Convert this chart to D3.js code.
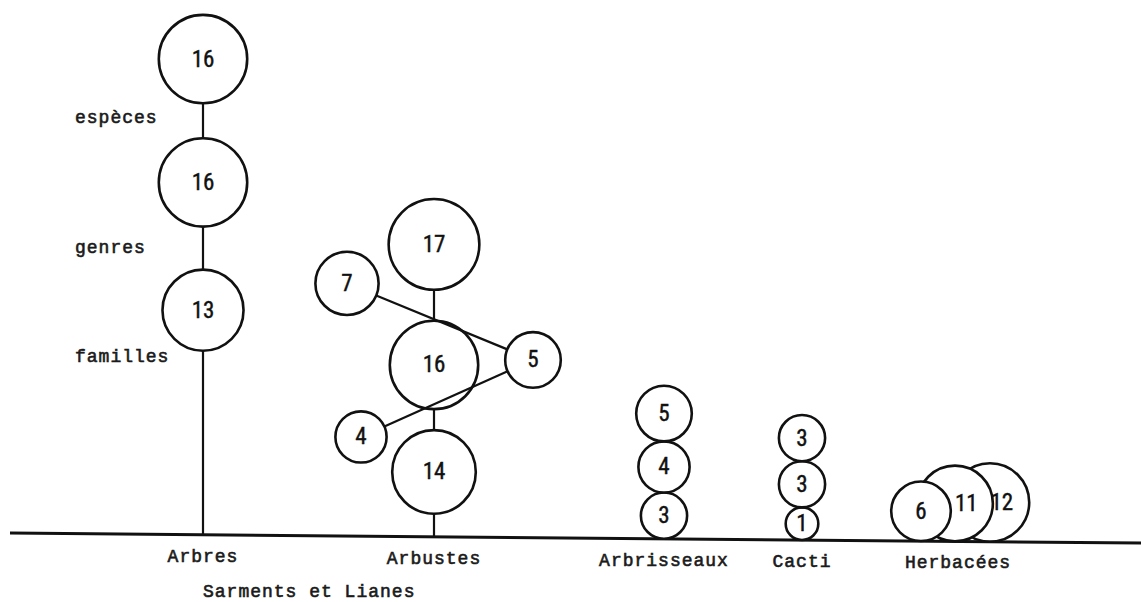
<!DOCTYPE html>
<html>
  <head>
    <meta charset="utf-8">
    <style>
    body {
      margin: 0;
      background: #fff;
    }
    .typed {
      font-family: "Liberation Mono", "DejaVu Sans Mono", monospace;
      font-size: 18px;
      letter-spacing: 1px;
      fill: #1a1a1a;
      stroke: #1a1a1a;
      stroke-width: 0.6px;
    }
    .num {
      font-family: "Liberation Sans Narrow", "Roboto Condensed", "DejaVu Sans Condensed", sans-serif;
      font-size: 23px;
      fill: #111;
      stroke: #111;
      stroke-width: 0.4px;
    }
    </style>
    <script src="https://cdn.jsdelivr.net/npm/d3@7"></script>
  </head>
  <body>
    <script>
    // values
    var categories = ["Arbres", "Arbustes", "Arbrisseaux", "Cacti", "Herbacées"];
    var familles = [13, 14, 3, 1, 6];
    var genres   = [16, 16, 4, 3, 11];
    var especes  = [16, 17, 5, 3, 12];
    var levelLabels = ["familles", "genres", "espèces"];
    var sarmentsLabel = "Sarments et Lianes";
    var sarments = [4, 5, 7]; // familles, genres, espèces (hung on Arbustes)

    var width = 1141, height = 602;

    var svg = d3.select("body").append("svg")
        .attr("width", width)
        .attr("height", height);

    svg.append("rect").attr("width", width).attr("height", height).attr("fill", "#fff");

    // layout
    var x = d3.scaleOrdinal().domain(categories).range([203, 434, 664, 802, 958]);
    var base = d3.scaleLinear().domain([10, 1141]).range([533, 543]); // the ground line leans a little
    var r = d3.scalePow().exponent(0.5).domain([0, 16]).range([7, 44.2]);

    var stems = d3.scaleOrdinal().domain(categories).range([184, 23, 0, 0, 0]);
    var gaps = {Arbres: [43, 35], Arbustes: [21, 31], Arbrisseaux: [0, 0], Cacti: [0, 0]};

    var ink = "#111";

    // ground line
    svg.append("line")
        .attr("x1", 10).attr("y1", base(10))
        .attr("x2", width).attr("y2", base(width))
        .attr("stroke", ink)
        .attr("stroke-width", 3);

    var nodes = [];
    var links = [];

    categories.forEach(function(cat, i){
      var vals = [familles[i], genres[i], especes[i]];
      var cx = x(cat);
      if (cat == "Herbacées") {
        // these three sit side by side on the ground, overlapping
        var left = cx - 37;
        var xs = [left, left + 34, left + 69];
        vals.forEach(function(v, k){
          nodes.push({cat: cat, level: k, v: v, x: xs[k], y: base(xs[k]) - r(v), z: 2 - k});
        });
        return;
      }
      var yb = base(cx);
      var y = yb - stems(cat) - r(vals[0]);
      var prev = null;
      vals.forEach(function(v, k){
        if (k > 0) y = y - r(vals[k-1]) - gaps[cat][k-1] - r(v);
        var n = {cat: cat, level: k, v: v, x: cx, y: y, z: 0};
        nodes.push(n);
        if (k == 0 && stems(cat) > 0) links.push({a: {x: cx, y: yb, v: 0, pt: true}, b: n});
        if (prev && gaps[cat][k-1] > 0) links.push({a: prev, b: n});
        prev = n;
      });
    });

    // sarments et lianes zig-zag next to the Arbustes column
    var sOff = [[-73, -35], [99, -5], [-87, 39]];
    var sNodes = sarments.map(function(v, k){
      var col = nodes.filter(function(n){ return n.cat == "Arbustes" && n.level == k; })[0];
      return {cat: "Sarments", level: k, v: v, x: col.x + sOff[k][0], y: col.y + sOff[k][1], z: 0};
    });
    links.push({a: sNodes[2], b: sNodes[1]});
    links.push({a: sNodes[1], b: sNodes[0]});
    nodes = nodes.concat(sNodes);

    function edge(p, q){
      var dx = q.x - p.x, dy = q.y - p.y, d = Math.sqrt(dx*dx + dy*dy);
      var rp = p.pt ? 0 : r(p.v);
      return [p.x + dx/d*rp, p.y + dy/d*rp];
    }

    nodes.sort(function(a, b){ return a.z - b.z; });

    svg.selectAll(".bubble")
      .data(nodes)
      .enter().append("circle")
        .attr("class", "bubble")
        .attr("cx", function(d){ return d.x; })
        .attr("cy", function(d){ return d.y; })
        .attr("r", function(d){ return r(d.v); })
        .attr("fill", "#fff")
        .attr("stroke", ink)
        .attr("stroke-width", 2.6);

    svg.selectAll(".link")
      .data(links)
      .enter().append("line")
        .attr("class", "link")
        .attr("x1", function(d){ return edge(d.a, d.b)[0]; })
        .attr("y1", function(d){ return edge(d.a, d.b)[1]; })
        .attr("x2", function(d){ return edge(d.b, d.a)[0]; })
        .attr("y2", function(d){ return edge(d.b, d.a)[1]; })
        .attr("stroke", ink)
        .attr("stroke-width", 2.2);

    svg.selectAll(".num")
      .data(nodes)
      .enter().append("text")
        .attr("class", "num")
        .attr("x", function(d){
          // numbers in the overlapped Herbacées circles sit off-centre
          if (d.cat == "Herbacées" && d.level > 0) return d.x + r(d.v) * 0.3;
          return d.x;
        })
        .attr("y", function(d){ return d.y; })
        .attr("text-anchor", "middle")
        .attr("dominant-baseline", "central")
        .text(function(d){ return d.v; });

    // category names under the ground line
    svg.selectAll(".cat")
      .data(categories)
      .enter().append("text")
        .attr("class", "typed")
        .attr("x", function(d){ return x(d); })
        .attr("y", function(d){ return base(x(d)) + 22; })
        .attr("text-anchor", "middle")
        .attr("dominant-baseline", "central")
        .text(function(d){ return d; });

    svg.append("text")
        .attr("class", "typed")
        .attr("x", 203)
        .attr("y", 592)
        .attr("dominant-baseline", "central")
        .text(sarmentsLabel);

    // level names beside the Arbres column
    var arb = nodes.filter(function(n){ return n.cat == "Arbres"; })
      .sort(function(a, b){ return a.level - b.level; });
    var labelY = [
      arb[0].y + r(arb[0].v) + 6,
      (arb[0].y - r(arb[0].v) + arb[1].y + r(arb[1].v)) / 2,
      (arb[1].y - r(arb[1].v) + arb[2].y + r(arb[2].v)) / 2 - 3
    ];
    svg.selectAll(".lvl")
      .data(levelLabels)
      .enter().append("text")
        .attr("class", "typed")
        .attr("x", 75)
        .attr("y", function(d, i){ return labelY[i]; })
        .attr("dominant-baseline", "central")
        .text(function(d){ return d; });
    </script>
  </body>
</html>
